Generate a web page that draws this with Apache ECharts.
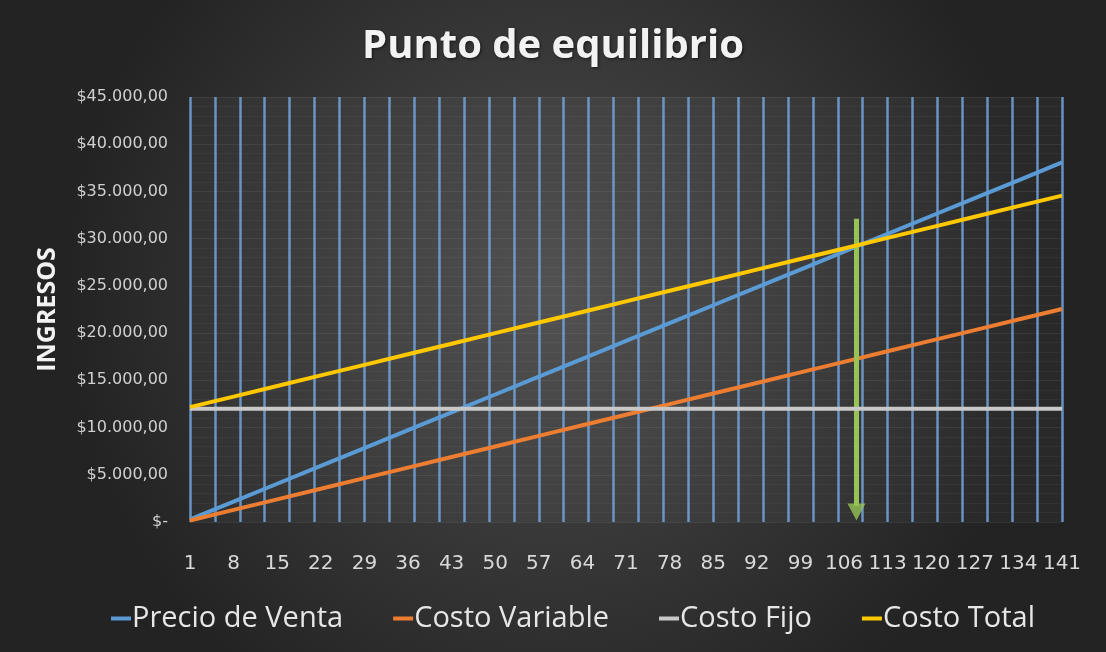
<!DOCTYPE html>
<html>
<head>
<meta charset="utf-8">
<script src="https://cdn.jsdelivr.net/npm/echarts@6/dist/echarts.min.js"></script>
<style>
html,body{margin:0;padding:0;background:#2b2b2b;}
#chart{width:1106px;height:652px;}
</style>
</head>
<body>
<div id="chart"></div>
<script>
// ---- Data ----
const xPoints = [1, 8, 15, 22, 29, 36, 43, 50, 57, 64, 71, 78, 85, 92, 99, 106, 113, 120, 127, 134, 141];
const precioVenta = [270, 2160, 4050, 5940, 7830, 9720, 11610, 13500, 15390, 17280, 19170, 21060, 22950, 24840, 26730, 28620, 30510, 32400, 34290, 36180, 38070];
const costoVariable = [160, 1280, 2400, 3520, 4640, 5760, 6880, 8000, 9120, 10240, 11360, 12480, 13600, 14720, 15840, 16960, 18080, 19200, 20320, 21440, 22560];
const costoFijo = [12000, 12000, 12000, 12000, 12000, 12000, 12000, 12000, 12000, 12000, 12000, 12000, 12000, 12000, 12000, 12000, 12000, 12000, 12000, 12000, 12000];
const costoTotal = [12160, 13280, 14400, 15520, 16640, 17760, 18880, 20000, 21120, 22240, 23360, 24480, 25600, 26720, 27840, 28960, 30080, 31200, 32320, 33440, 34560];
const seriesNames = ['Precio de Venta', 'Costo Variable', 'Costo Fijo', 'Costo Total'];
const arrowCategory = '108';
const arrowTop = 32100;
const arrowBottom = 200;
const firstCategory = 1, lastCategory = 141;

// category axis (units 1..141)
const categories = [];
for (let c = firstCategory; c <= lastCategory; c++) categories.push(String(c));

function pairs(vals) { return xPoints.map((x, i) => [String(x), vals[i]]); }

function money(v) {
  if (v === 0) return '$-';
  const s = String(Math.round(v)).replace(/\B(?=(\d{3})+(?!\d))/g, '.');
  return '$' + s + ',00';
}

const colors = ['#5b9bd5', '#ed7d31', '#c8c8c8', '#ffc800'];
const arrowColor = '#96c256';
const chart = echarts.init(document.getElementById('chart'));
const lineSeries = [precioVenta, costoVariable, costoFijo, costoTotal].map((vals, i) => ({
  name: seriesNames[i],
  type: 'line',
  data: pairs(vals),
  symbol: 'none',
  smooth: false,
  lineStyle: { width: 4, color: colors[i] },
  itemStyle: { color: colors[i] },
  z: 3 + i
}));
// arrow shaft
lineSeries.push({
  name: 'arrowShaft',
  type: 'line',
  data: [],
  symbol: 'none',
  silent: true,
  markLine: {
    silent: true,
    animation: false,
    symbol: ['none', 'none'],
    label: { show: false },
    lineStyle: { color: arrowColor, width: 5, type: 'solid', opacity: 1, cap: 'butt' },
    data: [[{ coord: [arrowCategory, arrowTop] }, { coord: [arrowCategory, arrowBottom + 1500] }]]
  },
  z: 10
});
// arrow head
lineSeries.push({
  name: 'arrowHead',
  type: 'scatter',
  data: [[arrowCategory, arrowBottom]],
  symbol: 'triangle',
  symbolRotate: 180,
  symbolSize: [18, 17],
  symbolOffset: [0, -8],
  itemStyle: { color: arrowColor },
  silent: true,
  z: 11
});

chart.setOption({
  animation: false,
  backgroundColor: {
    type: 'radial', x: 0.5, y: 0.45, r: 0.75,
    colorStops: [{ offset: 0, color: '#4d4d4d' }, { offset: 1, color: '#232323' }]
  },
  title: {
    text: 'Punto de equilibrio',
    left: 'center',
    top: 22,
    textStyle: {
      fontFamily: 'Open Sans', fontWeight: 'bold', fontSize: 40, color: '#f2f2f2',
      textShadowColor: 'rgba(0,0,0,0.6)', textShadowBlur: 3, textShadowOffsetX: 1, textShadowOffsetY: 1
    }
  },
  legend: {
    data: seriesNames,
    bottom: 14,
    left: 106,
    icon: 'rect',
    itemWidth: 20,
    itemHeight: 4,
    itemGap: 50,
    textStyle: { fontFamily: 'Open Sans', fontSize: 29, color: '#e6e6e6', padding: [0, 0, 0, -4] }
  },
  grid: {
    left: 190, right: 44, top: 97, bottom: 130,
    show: true, backgroundColor: 'rgba(255,255,255,0.03)', borderWidth: 0
  },
  xAxis: {
    type: 'category',
    data: categories,
    boundaryGap: false,
    axisLine: { show: false },
    axisTick: { show: false },
    axisLabel: {
      interval: 6, margin: 32,
      fontFamily: 'DejaVu Sans', fontSize: 20, color: '#d9d9d9'
    },
    splitLine: {
      show: true, interval: 3,
      lineStyle: { color: 'rgba(115,165,220,0.85)', width: 2.5 }
    }
  },
  yAxis: {
    type: 'value',
    min: 0, max: 45000, interval: 5000,
    name: 'INGRESOS',
    nameLocation: 'middle',
    nameGap: 130,
    nameRotate: 90,
    nameTextStyle: { fontFamily: 'Open Sans', fontWeight: 'bold', fontSize: 25, color: '#f2f2f2' },
    axisLine: { show: false },
    axisTick: { show: false },
    axisLabel: {
      margin: 22, formatter: money,
      fontFamily: 'DejaVu Sans', fontSize: 16, color: '#d0d0d0'
    },
    splitLine: { show: true, lineStyle: { color: 'rgba(255,255,255,0.07)', width: 1 } },
    minorTick: { show: false, splitNumber: 5 },
    minorSplitLine: { show: true, lineStyle: { color: 'rgba(255,255,255,0.04)', width: 1 } }
  },
  series: lineSeries
});
</script>
</body>
</html>
